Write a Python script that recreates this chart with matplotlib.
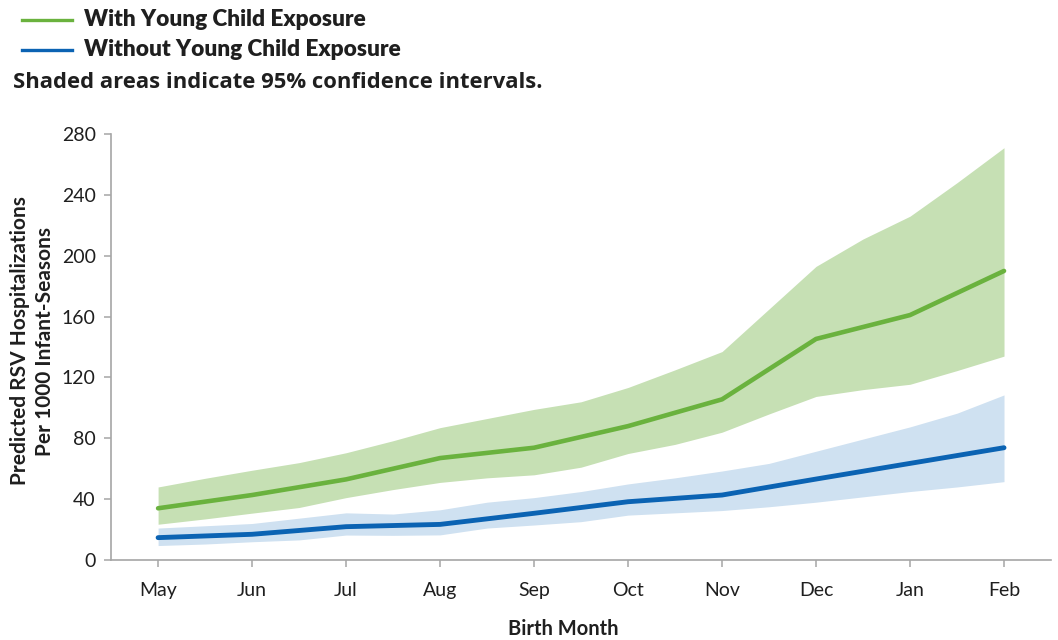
import matplotlib
matplotlib.use("Agg")
import matplotlib.pyplot as plt
from matplotlib.lines import Line2D

# Birth months and predicted rates (per 1000 infant-seasons)
months = ["May", "Jun", "Jul", "Aug", "Sep", "Oct", "Nov", "Dec", "Jan", "Feb"]
with_exposure = [34, 42.7, 53, 67, 73.8, 88, 105.6, 145.3, 161, 190]
without_exposure = [14.7, 16.9, 21.9, 23.4, 30.7, 38.3, 42.7, 53.2, 63.5, 73.8]

# 95% confidence bands, sampled every half month (month index 0 = May)
band_pos = [0, 0.5, 1, 1.5, 2, 2.5, 3, 3.5, 4, 4.5, 5, 5.5, 6, 6.5, 7, 7.5, 8, 8.5, 9]
with_upper = [48, 53.7, 59, 64, 70.5, 78.4, 87, 93, 99, 104, 113.4, 125, 137,
              165, 193, 211, 226, 248, 271]
with_lower = [23.5, 27, 30.8, 34.5, 41, 46.3, 51, 54, 56, 61, 70, 76, 84,
              96, 107.5, 112, 115.5, 124.5, 134]
without_upper = [21, 22.5, 24, 27.5, 31, 30.2, 33, 38, 41, 45, 50, 54, 58.5,
                 63.5, 71.5, 79.5, 87.5, 96.5, 108.5]
without_lower = [9.5, 10.5, 12, 13.2, 16.4, 16.2, 16.5, 21, 23, 25.2, 29.5,
                 31, 32.5, 35, 38, 41.5, 45, 48, 51.5]

green_line = "#6ab23e"
green_fill = "#c6e0b4"
blue_line = "#0b63b3"
blue_fill = "#cfe1f1"
axis_gray = "#a6a6a6"
text_dark = "#1f1f1f"

fig = plt.figure(figsize=(10.58, 6.4), dpi=100)
ax = fig.add_axes([0.105, 0.125, 0.8884, 0.6656])

x = list(range(len(months)))
ax.fill_between(band_pos, with_lower, with_upper, color=green_fill, lw=0, zorder=1)
ax.fill_between(band_pos, without_lower, without_upper, color=blue_fill, lw=0, zorder=1)
ax.plot(x, with_exposure, color=green_line, lw=3.3, solid_capstyle="round", zorder=3)
ax.plot(x, without_exposure, color=blue_line, lw=3.5, solid_capstyle="round", zorder=3)

ax.set_xlim(-0.5, 9.5)
ax.set_ylim(0, 280)
ax.set_yticks(range(0, 281, 40))
ax.set_xticks(x)
ax.set_xticklabels(months)

for side in ("top", "right"):
    ax.spines[side].set_visible(False)
for side in ("left", "bottom"):
    ax.spines[side].set_color(axis_gray)
    ax.spines[side].set_linewidth(1.2)

ax.tick_params(axis="both", direction="out", length=5, width=1.1, color=axis_gray,
               labelsize=14, labelcolor=text_dark)
ax.tick_params(axis="x", pad=11)
ax.tick_params(axis="y", pad=6)
for lbl in ax.get_xticklabels() + ax.get_yticklabels():
    lbl.set_family("Lato")

ax.set_xlabel("Birth Month", family="Lato", fontweight="bold", fontsize=14.5,
              color=text_dark)
ax.xaxis.set_label_coords((563 - 111) / 940, -0.138)
ax.set_ylabel("Predicted RSV Hospitalizations\nPer 1000 Infant-Seasons",
              family="Lato", fontweight="bold", fontsize=15, color=text_dark,
              linespacing=1.3)
ax.yaxis.set_label_coords((55 - 111) / 940, (560 - 341) / 426)

# Legend block at the top left
for ypix, col in ((20, green_line), (50, blue_line)):
    fig.add_artist(Line2D([22 / 1058, 72 / 1058], [1 - ypix / 640, 1 - ypix / 640],
                          color=col, lw=2.4, transform=fig.transFigure))
fig.text(84 / 1058, 1 - 20 / 640, "With Young Child Exposure", family="Lato",
         fontweight="heavy", fontsize=16.3, color=text_dark, va="center", ha="left")
fig.text(84 / 1058, 1 - 50 / 640, "Without Young Child Exposure", family="Lato",
         fontweight="heavy", fontsize=16.3, color=text_dark, va="center", ha="left")
fig.text(13 / 1058, 1 - 83 / 640, "Shaded areas indicate 95% confidence intervals.",
         family="Open Sans", fontweight="bold", fontsize=15.8, color=text_dark,
         va="center", ha="left")

fig.savefig("out.png", dpi=100, facecolor="white")
